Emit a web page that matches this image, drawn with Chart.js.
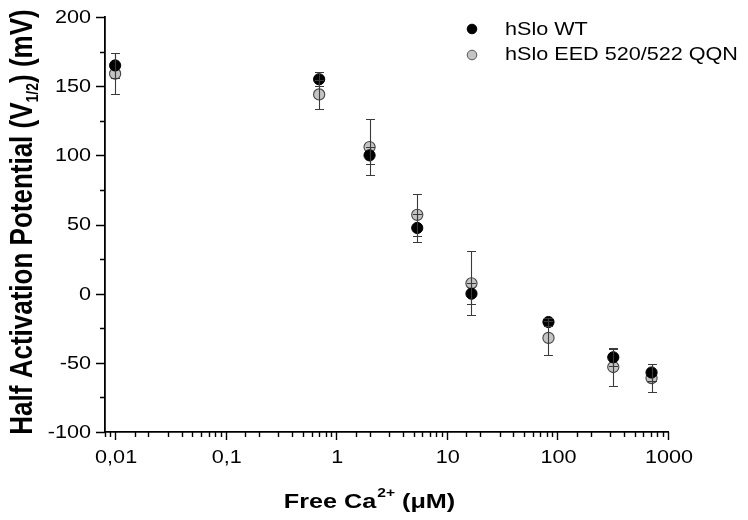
<!DOCTYPE html>
<html>
<head>
<meta charset="utf-8">
<script src="https://cdn.jsdelivr.net/npm/chart.js@4.4.1/dist/chart.umd.min.js"></script>
<style>
  html,body{margin:0;padding:0;background:#fff}
  #wrap{width:748px;height:520px}
</style>
</head>
<body>
<div id="wrap"><canvas id="c" width="748" height="520"></canvas></div>
<script>
/* ========= DATA ========= */
const calcium  = [0.01, 0.7, 2, 5.4, 16.7, 83, 320, 710];     // free Ca2+ (uM)
const wtV      = [165, 155, 100, 47.5, 0, -20.5, -46, -57];   // hSlo WT V1/2 (mV)
const wtErr    = [9, 5, 6, 10, 7.5, 3, 6, 6];
const qqnV     = [159, 144, 106, 57, 7.5, -32, -53, -61];     // hSlo EED 520/522 QQN
const qqnErr   = [15, 10.5, 20, 15, 23, 12, 14, 10];
const seriesNames = ['hSlo WT', 'hSlo EED 520/522 QQN'];
const xTickLabels = ['0,01', '0,1', '1', '10', '100', '1000'];   // decades 1e-2 .. 1e3
const yTicks = [-100, -50, 0, 50, 100, 150, 200];

const FONT = '"Liberation Sans", Arial, sans-serif';
const SX = 1.2;   // glyphs in the original are a bit wider than Arial
const pts = (xs, ys) => xs.map((x, i) => ({x, y: ys[i]}));
const isDecade = v => Math.abs(Math.log10(v) - Math.round(Math.log10(v))) < 1e-6;

// widened text helper
function wText(ctx, txt, x, y, font, align){
  ctx.save(); ctx.translate(x, y); ctx.scale(SX, 1);
  ctx.font = font; ctx.textAlign = align || 'left'; ctx.fillText(txt, 0, 0);
  ctx.restore();
}
function wWidth(ctx, txt, font){ ctx.font = font; return ctx.measureText(txt).width * SX; }

/* ========= PLUGINS ========= */
// outward tick marks + tick labels
const axisDeco = {
  id: 'axisDeco',
  afterDraw(chart){
    const {ctx, chartArea:a, scales:{x, y}} = chart;
    ctx.save(); ctx.strokeStyle = '#000'; ctx.lineWidth = 1.4;
    ctx.beginPath();
    x.ticks.forEach(t => {
      const px = Math.round(x.getPixelForValue(t.value)) + 0.5;
      const len = isDecade(t.value) ? 8 : 5;
      ctx.moveTo(px, a.bottom); ctx.lineTo(px, a.bottom + len);
    });
    for (let v = -100; v <= 200; v += 25){
      const py = Math.round(y.getPixelForValue(v)) + 0.5;
      const len = v % 50 === 0 ? 9 : 5;
      ctx.moveTo(a.left, py); ctx.lineTo(a.left - len, py);
    }
    ctx.stroke();

    ctx.fillStyle = '#000'; ctx.textBaseline = 'alphabetic';
    const tf = '18px ' + FONT;
    x.ticks.filter(t => isDecade(t.value)).forEach(t => {
      const lbl = xTickLabels[Math.round(Math.log10(t.value)) + 2];
      if (lbl) wText(ctx, lbl, x.getPixelForValue(t.value) + 1, a.bottom + 31, tf, 'center');
    });
    ctx.textBaseline = 'middle';
    yTicks.forEach(v => wText(ctx, String(v), a.left - 14, y.getPixelForValue(v) + 1, tf, 'right'));
    ctx.restore();
  }
};

// error bars with caps, drawn over the markers
const errorBars = {
  id: 'errorBars',
  afterDatasetsDraw(chart){
    const {ctx, scales:{x, y}} = chart;
    const sets = [[wtV, wtErr], [qqnV, qqnErr]];
    ctx.save(); ctx.strokeStyle = '#3a3a3a'; ctx.lineWidth = 1.1;
    sets.forEach(([vals, errs]) => {
      calcium.forEach((c, i) => {
        const px = Math.round(x.getPixelForValue(c)) + 0.5;
        const top = Math.round(y.getPixelForValue(vals[i] + errs[i])) + 0.5;
        const bot = Math.round(y.getPixelForValue(vals[i] - errs[i])) + 0.5;
        ctx.beginPath();
        ctx.moveTo(px, top); ctx.lineTo(px, bot);
        ctx.moveTo(px - 4.5, top); ctx.lineTo(px + 4.5, top);
        ctx.moveTo(px - 4.5, bot); ctx.lineTo(px + 4.5, bot);
        ctx.stroke();
      });
    });
    ctx.restore();
  }
};

// axis titles with sub/superscripts + legend
const labels = {
  id: 'labels',
  afterDraw(chart){
    const {ctx} = chart;
    ctx.save(); ctx.fillStyle = '#000'; ctx.textBaseline = 'alphabetic';

    // x title
    const big = 'bold 21px ' + FONT, small = 'bold 13px ' + FONT;
    const w1 = wWidth(ctx, 'Free Ca', big), w2 = wWidth(ctx, '2+', small), w3 = wWidth(ctx, ' (\u03bcM)', big);
    const x0 = 369 - (w1 + w2 + w3) / 2, yb = 508;
    wText(ctx, 'Free Ca', x0, yb, big);
    wText(ctx, '2+', x0 + w1 + 1, yb - 11, small);
    wText(ctx, ' (\u03bcM)', x0 + w1 + w2 + 1, yb, big);

    // y title (rotated, widened across the baseline)
    ctx.save();
    ctx.translate(32, 222); ctx.rotate(-Math.PI / 2); ctx.scale(1, SX);
    const yf = 'bold 26px ' + FONT, ysub = 'bold 14px ' + FONT;
    ctx.font = yf;   const a1 = ctx.measureText('Half Activation Potential (V').width;
    ctx.font = ysub; const a2 = ctx.measureText('1/2').width;
    ctx.font = yf;   const a3 = ctx.measureText(') (mV)').width;
    const s = -(a1 + a2 + a3) / 2;
    ctx.fillText('Half Activation Potential (V', s, 0);
    ctx.font = ysub; ctx.fillText('1/2', s + a1, 5);
    ctx.font = yf; ctx.fillText(') (mV)', s + a1 + a2, 0);
    ctx.restore();

    // legend
    const rows = [{my: 29, ty: 35, fill: '#000', stroke: '#000'}, {my: 55, ty: 60, fill: '#c4c4c4', stroke: '#555'}];
    rows.forEach((r, i) => {
      ctx.beginPath(); ctx.arc(472, r.my, 4.8, 0, Math.PI * 2);
      ctx.fillStyle = r.fill; ctx.fill();
      ctx.strokeStyle = r.stroke; ctx.lineWidth = 1; ctx.stroke();
      ctx.fillStyle = '#000';
      wText(ctx, seriesNames[i], 505, r.ty, '18px ' + FONT);
    });
    ctx.restore();
  }
};

/* ========= CHART ========= */
new Chart(document.getElementById('c'), {
  type: 'scatter',
  data: {
    datasets: [
      {label: seriesNames[0], data: pts(calcium, wtV),
       pointRadius: 5.6, pointBackgroundColor: '#000', pointBorderColor: '#000', pointBorderWidth: 1},
      {label: seriesNames[1], data: pts(calcium, qqnV),
       pointRadius: 5.6, pointBackgroundColor: '#c4c4c4', pointBorderColor: '#444', pointBorderWidth: 1.1}
    ]
  },
  options: {
    responsive: false, animation: false, devicePixelRatio: 1,
    layout: {padding: {left: 0, top: 17, right: 80, bottom: 0}},
    plugins: {legend: {display: false}, tooltip: {enabled: false}},
    scales: {
      x: {
        type: 'logarithmic', min: 0.0081, max: 1000,
        grid: {drawOnChartArea: false, drawTicks: false},
        border: {display: true, color: '#000', width: 1.8},
        ticks: {display: false, autoSkip: false},
        afterFit: s => { s.height = 88; }
      },
      y: {
        min: -100, max: 200,
        afterBuildTicks: s => { s.ticks = yTicks.map(v => ({value: v})); },
        grid: {drawOnChartArea: false, drawTicks: false},
        border: {display: true, color: '#000', width: 1.8},
        ticks: {display: false},
        afterFit: s => { s.width = 105; }
      }
    }
  },
  plugins: [axisDeco, errorBars, labels]
});
</script>
</body>
</html>
